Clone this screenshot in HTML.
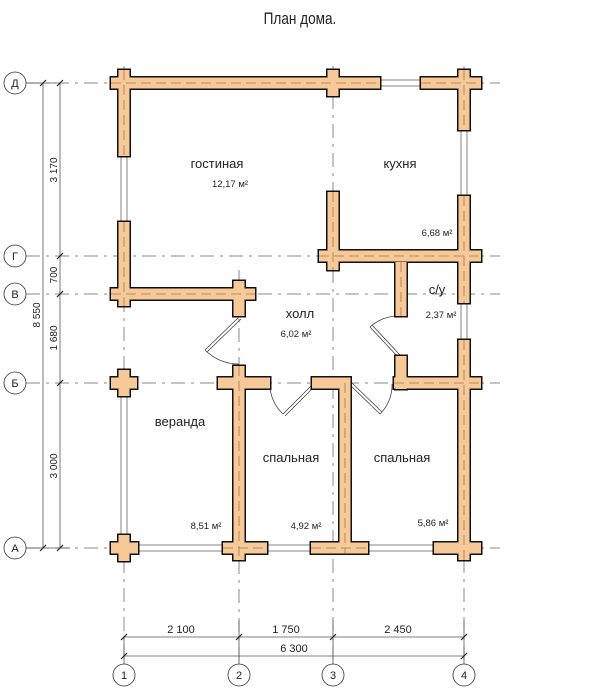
<!DOCTYPE html>
<html><head><meta charset="utf-8"><style>
html,body{margin:0;padding:0;background:#fff;width:600px;height:691px;overflow:hidden}
text{font-family:"Liberation Sans",sans-serif;fill:#222}
</style></head><body>
<svg width="600" height="691" viewBox="0 0 600 691" xmlns="http://www.w3.org/2000/svg">
<text x="300" y="24" font-size="17" text-anchor="middle" transform="translate(300 0) scale(0.8 1) translate(-300 0)">План дома.</text>
<g stroke="#888" stroke-width="1" stroke-dasharray="14,6,3,6" fill="none">
<line x1="26" y1="83" x2="500" y2="83"/>
<line x1="26" y1="256" x2="500" y2="256"/>
<line x1="26" y1="294" x2="500" y2="294"/>
<line x1="26" y1="383" x2="500" y2="383"/>
<line x1="26" y1="548" x2="500" y2="548"/>
<line x1="124" y1="66" x2="124" y2="664"/>
<line x1="239" y1="270" x2="239" y2="664"/>
<line x1="333" y1="66" x2="333" y2="664"/>
<line x1="464" y1="66" x2="464" y2="664"/>
</g>
<g stroke="#555" stroke-width="0.8" fill="none">
<line x1="43" y1="83" x2="43" y2="548"/>
<line x1="60" y1="83" x2="60" y2="548"/>
<line x1="26" y1="83" x2="56" y2="83"/>
<line x1="26" y1="548" x2="70" y2="548"/>
<line x1="124" y1="637" x2="464" y2="637"/>
<line x1="124" y1="656" x2="464" y2="656"/>
<line x1="124" y1="637" x2="124" y2="664"/>
<line x1="239" y1="620" x2="239" y2="664"/>
<line x1="333" y1="620" x2="333" y2="664"/>
<line x1="464" y1="620" x2="464" y2="664"/>
<g stroke="#222" stroke-width="1.2">
<line x1="40" y1="86" x2="46" y2="80"/><line x1="40" y1="551" x2="46" y2="545"/>
<line x1="57" y1="86" x2="63" y2="80"/><line x1="57" y1="259" x2="63" y2="253"/><line x1="57" y1="297" x2="63" y2="291"/><line x1="57" y1="386" x2="63" y2="380"/><line x1="57" y1="551" x2="63" y2="545"/>
<line x1="121" y1="640" x2="127" y2="634"/><line x1="236" y1="640" x2="242" y2="634"/><line x1="330" y1="640" x2="336" y2="634"/><line x1="461" y1="640" x2="467" y2="634"/>
<line x1="121" y1="659" x2="127" y2="653"/><line x1="461" y1="659" x2="467" y2="653"/>
</g>
<g stroke="#333">
<circle cx="15" cy="83" r="11"/><circle cx="15" cy="256" r="11"/><circle cx="15" cy="294" r="11"/><circle cx="15" cy="383" r="11"/><circle cx="15" cy="548" r="11"/>
<circle cx="124" cy="675" r="11"/><circle cx="239" cy="675" r="11"/><circle cx="333" cy="675" r="11"/><circle cx="464" cy="675" r="11"/>
</g>
</g>
<g font-size="11" text-anchor="middle">
<text x="15" y="87">Д</text><text x="15" y="260">Г</text><text x="15" y="298">В</text><text x="15" y="387">Б</text><text x="15" y="552">А</text>
<text x="124" y="679">1</text><text x="239" y="679">2</text><text x="333" y="679">3</text><text x="464" y="679">4</text>
<text x="181" y="633">2 100</text><text x="286" y="633">1 750</text><text x="398" y="633">2 450</text><text x="294" y="652">6 300</text>
</g>
<g font-size="10" text-anchor="middle">
<text transform="translate(57 170) rotate(-90)">3 170</text>
<text transform="translate(57 275) rotate(-90)">700</text>
<text transform="translate(57 338) rotate(-90)">1 680</text>
<text transform="translate(57 466) rotate(-90)">3 000</text>
<text transform="translate(40 315) rotate(-90)">8 550</text>
</g>
<g stroke="#666" stroke-width="0.8" fill="#fff">
<rect x="121" y="156" width="6" height="66"/>
<rect x="121" y="396" width="6" height="139"/>
<rect x="380" y="80" width="41" height="6"/>
<rect x="461" y="130" width="6" height="66"/>
<rect x="461" y="303" width="6" height="37"/>
<rect x="137" y="545" width="86" height="6"/>
<rect x="267" y="545" width="44" height="6"/>
<rect x="368" y="545" width="66" height="6"/>
</g>
<g stroke="#444" stroke-width="0.8" fill="none">
<path d="M239 317 L205 350 M241 319 L207 352"/><path d="M205 350 A47 47 0 0 0 239 364"/>
<path d="M312 385 L283 414 M314 387 L285 416"/><path d="M283 414 A40 40 0 0 1 270 384"/>
<path d="M350 385 L380 414 M352 383 L382 412"/><path d="M380 414 A40 40 0 0 0 392 384"/>
<path d="M398 357 L370 327 M400 355 L372 325"/><path d="M370 327 A42 42 0 0 1 400 316"/>
</g>
<g id="w">
<rect x="111" y="77.5" width="269" height="11"/><rect x="421" y="77.5" width="60" height="11"/>
<rect x="118.5" y="70" width="11" height="86"/><rect x="327.5" y="70" width="11" height="26"/>
<rect x="458.5" y="70" width="11" height="60"/><rect x="458.5" y="196" width="11" height="107"/><rect x="458.5" y="340" width="11" height="220"/>
<rect x="118.5" y="222" width="11" height="84"/><rect x="111" y="288.5" width="144" height="11"/><rect x="233.5" y="281" width="11" height="35"/>
<rect x="319" y="250.5" width="162" height="11"/><rect x="327.5" y="192" width="11" height="78"/>
<rect x="395.5" y="262" width="11" height="54"/><rect x="395.5" y="356" width="11" height="33"/><rect x="394" y="377.5" width="87" height="11"/>
<rect x="111" y="377.5" width="26" height="11"/><rect x="118.5" y="370" width="11" height="26"/>
<rect x="218" y="377.5" width="52" height="11"/><rect x="233.5" y="366" width="11" height="194"/>
<rect x="312" y="377.5" width="37" height="11"/><rect x="339.5" y="377.5" width="11" height="176"/>
<rect x="111" y="542.5" width="27" height="11"/><rect x="118.5" y="535" width="11" height="26"/>
<rect x="223" y="542.5" width="44" height="11"/><rect x="311" y="542.5" width="57" height="11"/><rect x="434" y="542.5" width="47" height="11"/>
</g>
<use href="#w" fill="#000" stroke="#111" stroke-width="3"/>
<use href="#w" fill="#f8c998" stroke="none"/>
<g stroke="#a07850" stroke-width="0.8" stroke-dasharray="10,5" fill="none">
<line x1="111" y1="83" x2="380" y2="83"/><line x1="421" y1="83" x2="481" y2="83"/>
<line x1="124" y1="70" x2="124" y2="156"/><line x1="124" y1="222" x2="124" y2="306"/>
<line x1="464" y1="70" x2="464" y2="130"/><line x1="464" y1="196" x2="464" y2="303"/><line x1="464" y1="340" x2="464" y2="560"/>
<line x1="111" y1="294" x2="255" y2="294"/><line x1="319" y1="256" x2="481" y2="256"/><line x1="239" y1="366" x2="239" y2="560"/>
<line x1="345" y1="383" x2="345" y2="553"/><line x1="394" y1="383" x2="481" y2="383"/><line x1="223" y1="548" x2="267" y2="548"/><line x1="311" y1="548" x2="368" y2="548"/>
<line x1="333" y1="192" x2="333" y2="270"/><line x1="401" y1="262" x2="401" y2="316"/>
</g>
<g font-size="13" text-anchor="middle">
<text x="217" y="168">гостиная</text><text x="400" y="168">кухня</text><text x="300" y="318">холл</text>
<text x="437" y="294">с/у</text><text x="180" y="426">веранда</text><text x="291" y="462">спальная</text><text x="402" y="462">спальная</text>
</g>
<g font-size="9.5" text-anchor="middle">
<text x="230" y="187">12,17 м²</text><text x="437" y="236">6,68 м²</text><text x="296" y="337">6,02 м²</text><text x="441" y="318">2,37 м²</text>
<text x="206" y="529">8,51 м²</text><text x="306" y="529">4,92 м²</text><text x="433" y="526">5,86 м²</text>
</g>
</svg>
</body></html>
